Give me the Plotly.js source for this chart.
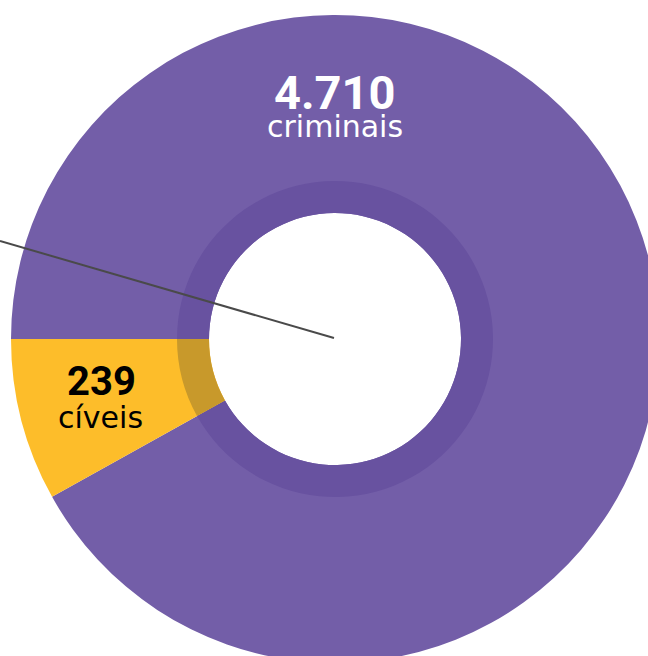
<!DOCTYPE html>
<html>
<head>
<meta charset="utf-8">
<script src="https://cdn.plot.ly/plotly-3.0.1.min.js"></script>
<style>
  html, body { margin:0; padding:0; width:648px; height:656px; overflow:hidden; background:#ffffff; }
  #chart { position:absolute; left:0px; top:0px; width:659px; height:663px; }
</style>
</head>
<body>
<div id="chart"></div>
<script>
// ---- data ----
var categories = ['criminais', 'cíveis'];
var counts = [4710, 239];            // numbers printed on the chart
var sliceShares = [91.9, 8.1];       // slice sizes as drawn (angle share, %)
var sliceColors = ['#735ea8', '#fdbd2a'];
var ringColors = ['#6852a0', '#c8992b'];

function fmt(n) { return String(n).replace(/\B(?=(\d{3})+(?!\d))/g, '.'); }

var W = 659, H = 663;
// pie occupies a 648px square whose top-left is at (11, 15)
var px = function (x) { return x / W; };
var py = function (y) { return 1 - y / H; };
var R = 324, CX = 11 + R, CY = 15 + R;

var common = {
  type: 'pie',
  labels: categories,
  values: sliceShares,
  sort: false,
  direction: 'clockwise',
  rotation: 270,
  textinfo: 'none',
  hoverinfo: 'skip',
  showlegend: false
};
var outer = Object.assign({}, common, {
  hole: 126 / R,
  marker: { colors: sliceColors, line: { width: 0 } },
  domain: { x: [px(CX - R), px(CX + R)], y: [py(CY + R), py(CY - R)] }
});
var ring = Object.assign({}, common, {
  hole: 126 / 158,
  marker: { colors: ringColors, line: { width: 0 } },
  domain: { x: [px(CX - 158), px(CX + 158)], y: [py(CY + 158), py(CY - 158)] }
});

var layout = {
  width: W, height: H,
  margin: { l: 0, r: 0, t: 0, b: 0, pad: 0 },
  paper_bgcolor: 'rgba(0,0,0,0)',
  plot_bgcolor: 'rgba(0,0,0,0)',
  showlegend: false,
  annotations: [
    { text: '<b>' + fmt(counts[0]) + '</b>', x: px(335), y: py(93), xref: 'paper', yref: 'paper',
      xanchor: 'center', yanchor: 'middle', showarrow: false,
      font: { family: 'Roboto, sans-serif', size: 47, color: '#ffffff' } },
    { text: categories[0], x: px(335), y: py(127), xref: 'paper', yref: 'paper',
      xanchor: 'center', yanchor: 'middle', showarrow: false,
      font: { family: 'DejaVu Sans, sans-serif', size: 30, color: '#ffffff' } },
    { text: '<b>' + fmt(counts[1]) + '</b>', x: px(101), y: py(382), xref: 'paper', yref: 'paper',
      xanchor: 'center', yanchor: 'middle', showarrow: false,
      font: { family: 'Roboto, sans-serif', size: 40, color: '#000000' } },
    { text: categories[1], x: px(100), y: py(417), xref: 'paper', yref: 'paper',
      xanchor: 'center', yanchor: 'middle', showarrow: false,
      font: { family: 'DejaVu Sans, sans-serif', size: 30, color: '#000000' } }
  ],
  shapes: [
    { type: 'line', xref: 'paper', yref: 'paper', layer: 'above',
      x0: px(0), y0: py(241), x1: px(CX - 1), y1: py(CY - 1),
      line: { color: '#4a4a4a', width: 2 } }
  ]
};

Plotly.newPlot('chart', [outer, ring], layout, { staticPlot: true, displayModeBar: false });
</script>
</body>
</html>
